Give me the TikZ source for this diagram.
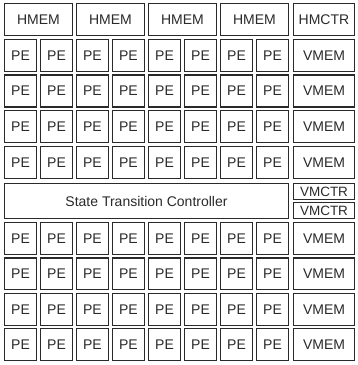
\documentclass[tikz,border=0pt]{standalone}
\usepackage{fontspec}
\setmainfont{Liberation Sans}
\usepackage{xcolor}
\usepackage{tikz}
\usetikzlibrary{positioning,calc}

\definecolor{linegray}{HTML}{2A2A2A}

\begin{document}
\begin{tikzpicture}[x=1pt, y=-1pt]
        \tikzset{
            cell/.style={draw=linegray, text=linegray, fill=white, rectangle, inner sep=0pt, line width=1.25pt, font=\fontsize{14}{16}\selectfont},
            pe/.style={cell, minimum width=32.3pt, minimum height=31.8pt},
            mem/.style={cell, minimum width=61pt, minimum height=31.8pt},
            ctr/.style={cell, minimum width=61pt, minimum height=15.6pt, font=\fontsize{13.5}{15}\selectfont},
        }
        \useasboundingbox (0,0) rectangle (357,365);

        % Horizontal memories
        \foreach \k in {0,...,3}
            \node [cell, minimum width=67.3pt, minimum height=31.8pt] (hmem\k) at ({38.5+72*\k}, 19.5) {HMEM};
        \node [mem] (hmctr) at (324, 19.5) {HMCTR};

        % PE array above the controller
        \foreach \r in {1,...,4} {
            \foreach \c in {0,...,7}
                \node [pe] (pe\r\c) at ({20.5+36*\c}, {19.5+35.75*\r}) {PE};
            \node [mem] (vmem\r) at (324, {19.5+35.75*\r}) {VMEM};
        }

        % PE array below the controller
        \foreach \r in {6,...,9} {
            \foreach \c in {0,...,7}
                \node [pe] (pe\r\c) at ({20.5+36*\c}, {238.5+35.4*(\r-6)}) {PE};
            \node [mem] (vmem\r) at (324, {238.5+35.4*(\r-6)}) {VMEM};
        }

        % State transition controller
        \node [cell, minimum width=284pt, minimum height=34.8pt] (stc) at (146.5, 201) {State Transition Controller};
        \node [ctr] (vmctra) at (324, 191.4) {VMCTR};
        \node [ctr, below=2.2pt of vmctra] (vmctrb) {VMCTR};
    \end{tikzpicture}
\end{document}
